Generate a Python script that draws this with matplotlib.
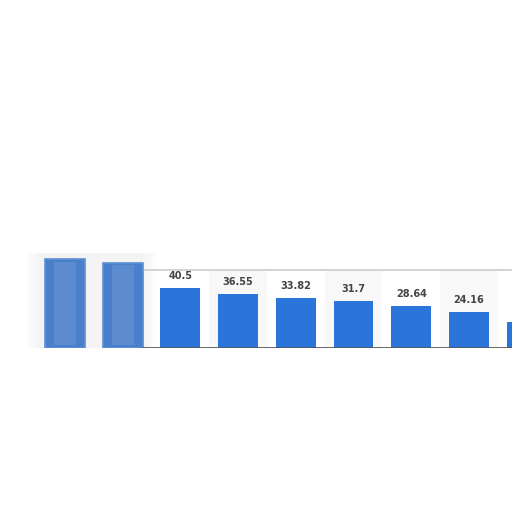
import matplotlib.pyplot as plt
from matplotlib.patches import Rectangle

# values; first two bars are blurred in the source
values = [60.4, 57.9, 40.5, 36.55, 33.82, 31.7, 28.64, 24.16, 17.8]
labels = ["", "", "40.5", "36.55", "33.82", "31.7", "28.64", "24.16", ""]
blurred = [True, True, False, False, False, False, False, False, False]

fig = plt.figure(figsize=(5.12, 5.12), dpi=100)
ax = fig.add_axes([0, 1 - 348 / 512, 1, 108 / 512])
ax.set_xlim(-1.127, 7.747)
ax.set_ylim(0, 73.3)
ax.axis("off")

bw = 0.693
x = list(range(len(values)))

# plot frame that starts right of the blurred bars
box_left = 1 + bw / 2
for i in [3, 5, 7]:
    ax.add_patch(Rectangle((i - 0.5, 0), 1, 52.9, facecolor="#f8f8f8",
                           edgecolor="none", zorder=0.5))
ax.add_patch(Rectangle((box_left, 0), 10, 52.9, facecolor="none",
                       edgecolor="#cccccc", lw=1.2, zorder=1))

# soft halo behind the blurred part
for k in range(6):
    pad = 0.05 * k
    ax.add_patch(Rectangle((-0.45 - pad, 0 - pad * 4), 1.8 + 2 * pad, 64 + pad * 8,
                           facecolor="#e8e8e8", edgecolor="none", alpha=0.08, zorder=0))

for xi, v, b in zip(x, values, blurred):
    if b:
        ax.bar(xi, v, width=bw, color="#4a7fcc", edgecolor="#5f8fd4", lw=1.2, zorder=2)
        ax.bar(xi, v * 0.94, width=bw * 0.55, bottom=v * 0.03, color="#7ea3da",
               alpha=0.35, zorder=2.5)
    else:
        ax.bar(xi, v, width=bw, color="#2a74da", zorder=2)

for xi, v, t in zip(x, values, labels):
    if t:
        ax.annotate(t, (xi, v), xytext=(0, 5), textcoords="offset points",
                    ha="center", va="bottom", fontsize=7, fontweight="bold",
                    color="#444444", zorder=3)

ax.plot([box_left, 10], [0, 0], color="#555555", lw=1.2, zorder=3)

fig.savefig("out.png", dpi=100, facecolor="white")
